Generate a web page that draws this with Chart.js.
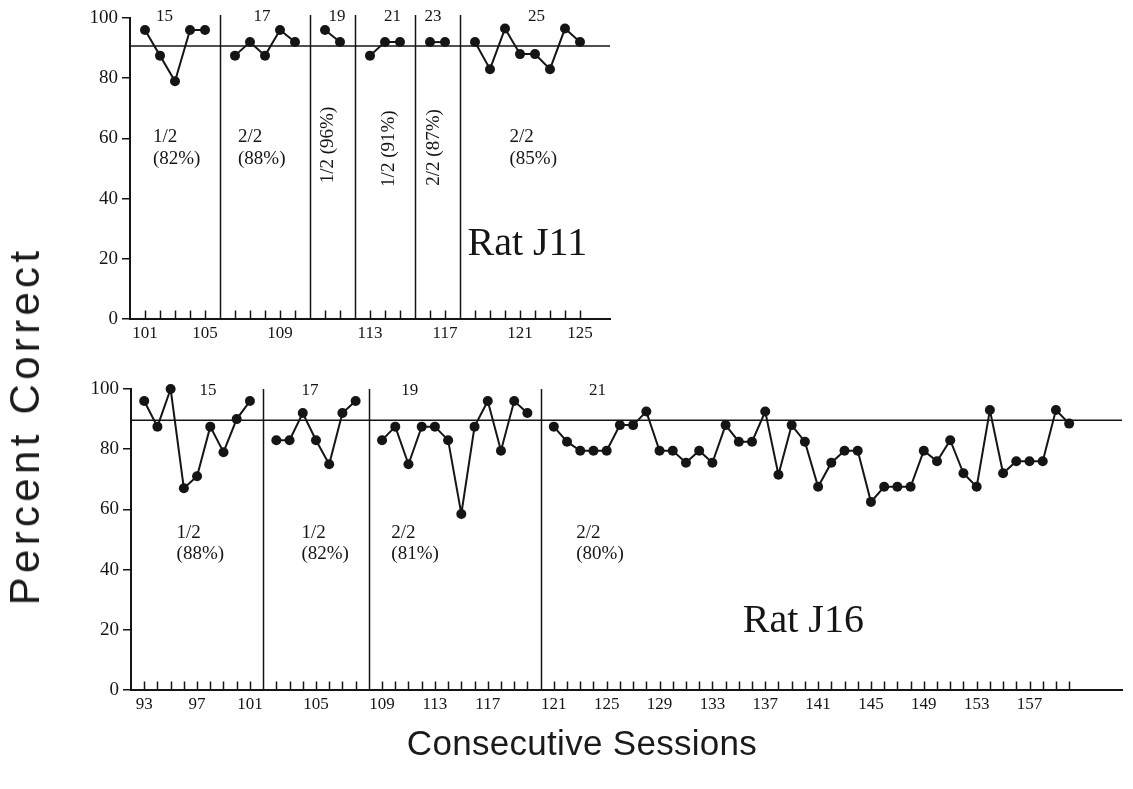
<!DOCTYPE html>
<html><head><meta charset="utf-8">
<script src="https://cdn.jsdelivr.net/npm/chart.js@4.4.0/dist/chart.umd.min.js"></script>
<style>
html,body{margin:0;padding:0;background:#fff;}
body{width:1133px;height:789px;position:relative;overflow:hidden;}
canvas{position:absolute;left:0;}
#c1{top:0;}
#c2{top:360px;}
.title{position:absolute;font-family:"Liberation Sans",Arial,sans-serif;color:#1a1a1a;white-space:nowrap;}
#ytitle{left:25px;top:426px;font-size:42px;letter-spacing:4.3px;transform:translate(-50%,-50%) rotate(-90deg);}
#xtitle{left:582px;top:743px;font-size:35px;letter-spacing:0.3px;transform:translate(-50%,-50%);}
</style></head>
<body>
<canvas id="c1" width="620" height="345"></canvas>
<canvas id="c2" width="1133" height="365"></canvas>
<div class="title" id="ytitle">Percent Correct</div>
<div class="title" id="xtitle">Consecutive Sessions</div>
<script>
// ---------- Data: Rat J11 ----------
const j11Name = 'Rat J11';
const j11Start = 101;
const j11PhaseNames = ['15', '17', '19', '21', '23', '25'];
const j11PhaseSizes = [5, 5, 2, 3, 2, 8];
const j11Values = [96, 87.5, 79, 96, 96,
                   87.5, 92, 87.5, 96, 92,
                   96, 92,
                   87.5, 92, 92,
                   92, 92,
                   92, 83, 96.5, 88, 88, 83, 96.5, 92];
const j11Criterion = 90.7;
const j11TickSessions = [101, 105, 109, 113, 117, 121, 125];
const j11Conditions = [['1/2', '(82%)'], ['2/2', '(88%)'], ['1/2 (96%)'], ['1/2 (91%)'], ['2/2 (87%)'], ['2/2', '(85%)']];

// ---------- Data: Rat J16 ----------
const j16Name = 'Rat J16';
const j16Start = 93;
const j16PhaseNames = ['15', '17', '19', '21'];
const j16PhaseSizes = [9, 7, 12, 40];
const j16Values = [96, 87.5, 100, 67, 71, 87.5, 79, 90, 96,
                   83, 83, 92, 83, 75, 92, 96,
                   83, 87.5, 75, 87.5, 87.5, 83, 58.5, 87.5, 96, 79.5, 96, 92,
                   87.5, 82.5, 79.5, 79.5, 79.5, 88, 88, 92.5, 79.5, 79.5,
                   75.5, 79.5, 75.5, 88, 82.5, 82.5, 92.5, 71.5, 88, 82.5,
                   67.5, 75.5, 79.5, 79.5, 62.5, 67.5, 67.5, 67.5, 79.5, 76,
                   83, 72, 67.5, 93, 72, 76, 76, 76, 93, 88.5];
const j16Criterion = 89.6;
const j16TickSessions = [93, 97, 101, 105, 109, 113, 117, 121, 125, 129, 133, 137, 141, 145, 149, 153, 157];
const j16Conditions = [['1/2', '(88%)'], ['1/2', '(82%)'], ['2/2', '(81%)'], ['2/2', '(80%)']];

// ---------- Layout (positions in axis units: slot, percent) ----------
const SERIF = "'Liberation Serif','Times New Roman',serif";
const INK = '#151515';
const layoutJ11 = {
  box: {padTop: 18, padRight: 10, yWidth: 130, xHeight: 26},
  xMax: 31, phaseLineTop: 101, numDy: -1,
  numX: [1.3, 7.8, 12.8, 16.5, 19.2, 26.1],
  condPos: [[0.53, 60.5, 0], [6.2, 60.5, 0], [12.2, 57.8, 1], [16.3, 56.6, 1], [19.3, 57, 1], [24.3, 60.5, 0]],
  condLine: 22,
  namePos: [21.5, 24.8]
};
const layoutJ16 = {
  box: {padTop: 29, padRight: 11, yWidth: 131, xHeight: 35},
  xMax: 74, phaseLineTop: 100, numDy: 2,
  numX: [4.83, 12.55, 20.1, 34.3],
  condPos: [[2.45, 52.2, 0], [11.9, 52.2, 0], [18.7, 52.2, 0], [32.7, 52.2, 0]],
  condLine: 21,
  namePos: [45.3, 22.6]
};

function buildSlots(sizes) {
  const out = []; let s = 0;
  sizes.forEach((n, i) => { if (i > 0) s++; for (let k = 0; k < n; k++) out.push({phase: i, slot: s++}); });
  return out;
}
function sessionToSlot(session, start, sizes) {
  let k = session - start, p = 0, acc = 0;
  while (p < sizes.length && k >= acc + sizes[p]) { acc += sizes[p]; p++; }
  return k + p;
}

function makeChart(canvasId, name, start, phaseNames, sizes, values, criterion, tickSessions, conds, L) {
  const slots = buildSlots(sizes);
  const datasets = sizes.map((n, i) => ({
    data: slots.map((s, k) => ({x: s.slot, y: values[k], p: s.phase})).filter(d => d.p === i),
    borderColor: INK, backgroundColor: INK, borderWidth: 2, clip: false,
    pointRadius: 5, pointHoverRadius: 5, pointBorderWidth: 0, tension: 0
  }));
  const phaseLineSlots = [];
  slots.forEach((s, k) => { if (k > 0 && s.phase !== slots[k - 1].phase) phaseLineSlots.push(s.slot - 1); });
  const tickSlots = tickSessions.map(t => sessionToSlot(t, start, sizes));
  const slotToSession = {};
  slots.forEach((s, k) => { slotToSession[s.slot] = start + k; });

  const decor = {
    id: 'decor',
    beforeDatasetsDraw(chart) {
      const {ctx, chartArea: a, scales: {x, y}} = chart;
      ctx.save();
      ctx.strokeStyle = INK; ctx.lineWidth = 1.5;
      ctx.beginPath();
      ctx.moveTo(a.left, y.getPixelForValue(criterion));
      ctx.lineTo(a.right, y.getPixelForValue(criterion));
      ctx.stroke();
      phaseLineSlots.forEach(s => {
        const px = Math.round(x.getPixelForValue(s)) + 0.5;
        ctx.beginPath();
        ctx.moveTo(px, y.getPixelForValue(0));
        ctx.lineTo(px, y.getPixelForValue(L.phaseLineTop));
        ctx.stroke();
      });
      const y0 = y.getPixelForValue(0);
      slots.forEach(s => {
        const px = Math.round(x.getPixelForValue(s.slot)) + 0.5;
        ctx.beginPath(); ctx.moveTo(px, y0); ctx.lineTo(px, y0 - 8.5); ctx.stroke();
      });
      ctx.restore();
    },
    afterDraw(chart) {
      const {ctx, scales: {x, y}} = chart;
      ctx.save();
      ctx.fillStyle = INK;
      ctx.font = '17px ' + SERIF; ctx.textAlign = 'center'; ctx.textBaseline = 'middle';
      phaseNames.forEach((t, i) => ctx.fillText(t, x.getPixelForValue(L.numX[i]), y.getPixelForValue(100) + L.numDy));
      ctx.font = '19px ' + SERIF;
      conds.forEach((lines, i) => {
        const [sx, sy, rot] = L.condPos[i];
        const px = x.getPixelForValue(sx), py = y.getPixelForValue(sy);
        if (rot) {
          ctx.save(); ctx.translate(px, py); ctx.rotate(-Math.PI / 2);
          ctx.textAlign = 'center'; ctx.fillText(lines[0], 0, 0); ctx.restore();
        } else {
          ctx.textAlign = 'left';
          lines.forEach((ln, j) => ctx.fillText(ln, px, py + j * L.condLine));
        }
      });
      ctx.font = '40px ' + SERIF; ctx.textAlign = 'left';
      ctx.fillText(name, x.getPixelForValue(L.namePos[0]), y.getPixelForValue(L.namePos[1]));
      ctx.restore();
    }
  };

  return new Chart(document.getElementById(canvasId), {
    type: 'line',
    data: {datasets},
    plugins: [decor],
    options: {
      responsive: false, animation: false, devicePixelRatio: 1,
      layout: {padding: {top: L.box.padTop, right: L.box.padRight, left: 0, bottom: 0}},
      plugins: {legend: {display: false}, tooltip: {enabled: false}},
      scales: {
        x: {
          type: 'linear', min: -1, max: L.xMax,
          afterFit: s => { s.height = L.box.xHeight; },
          afterBuildTicks: s => { s.ticks = tickSlots.map(v => ({value: v})); },
          ticks: {autoSkip: false, maxRotation: 0, padding: 4, color: INK,
                  font: {family: SERIF, size: 17},
                  callback: v => String(slotToSession[v])},
          grid: {display: false, drawTicks: false, tickLength: 0},
          border: {display: true, color: INK, width: 2}
        },
        y: {
          min: 0, max: 100,
          afterFit: s => { s.width = L.box.yWidth; },
          ticks: {stepSize: 20, padding: 4, color: INK, font: {family: SERIF, size: 19}},
          grid: {drawOnChartArea: false, drawTicks: true, tickLength: 8, color: INK, lineWidth: 1.5},
          border: {display: true, color: INK, width: 2}
        }
      }
    }
  });
}

makeChart('c1', j11Name, j11Start, j11PhaseNames, j11PhaseSizes, j11Values, j11Criterion, j11TickSessions, j11Conditions, layoutJ11);
makeChart('c2', j16Name, j16Start, j16PhaseNames, j16PhaseSizes, j16Values, j16Criterion, j16TickSessions, j16Conditions, layoutJ16);
</script>
</body></html>
